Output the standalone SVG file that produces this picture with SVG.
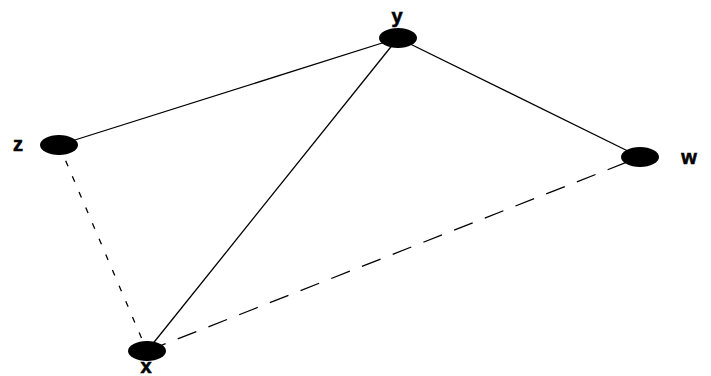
<svg xmlns="http://www.w3.org/2000/svg" width="711" height="376" viewBox="0 0 711 376">
<style>
.node{fill:#000}
.lbl{font-family:"Liberation Sans",Arial,sans-serif;font-weight:900;font-size:20px;fill:#000;text-anchor:middle;stroke:#000;stroke-width:0.6}
.e{stroke:#000;stroke-width:1.3;fill:none}
</style>
<rect width="711" height="376" fill="#fff"/>
<g id="edges">
<line class="e" x1="59" y1="145" x2="398" y2="38"/>
<line class="e" x1="398" y1="38" x2="640" y2="157"/>
<line class="e" x1="398" y1="38" x2="147" y2="351" stroke-width="2"/>
<line class="e" x1="59" y1="145" x2="147" y2="351" stroke-dasharray="6 11"/>
<line class="e" x1="147" y1="351" x2="640" y2="157" stroke-dasharray="20 13"/>
</g>
<g id="node-y"><ellipse class="node" cx="398" cy="38" rx="19" ry="10"/><text class="lbl" x="397" y="23">y</text></g>
<g id="node-z"><ellipse class="node" cx="59" cy="145" rx="19" ry="10"/><text class="lbl" x="18" y="151">z</text></g>
<g id="node-w"><ellipse class="node" cx="640" cy="157" rx="19" ry="10"/><text class="lbl" x="689" y="164">w</text></g>
<g id="node-x"><ellipse class="node" cx="147" cy="351" rx="19" ry="10"/><text class="lbl" x="146" y="373">x</text></g>
</svg>
